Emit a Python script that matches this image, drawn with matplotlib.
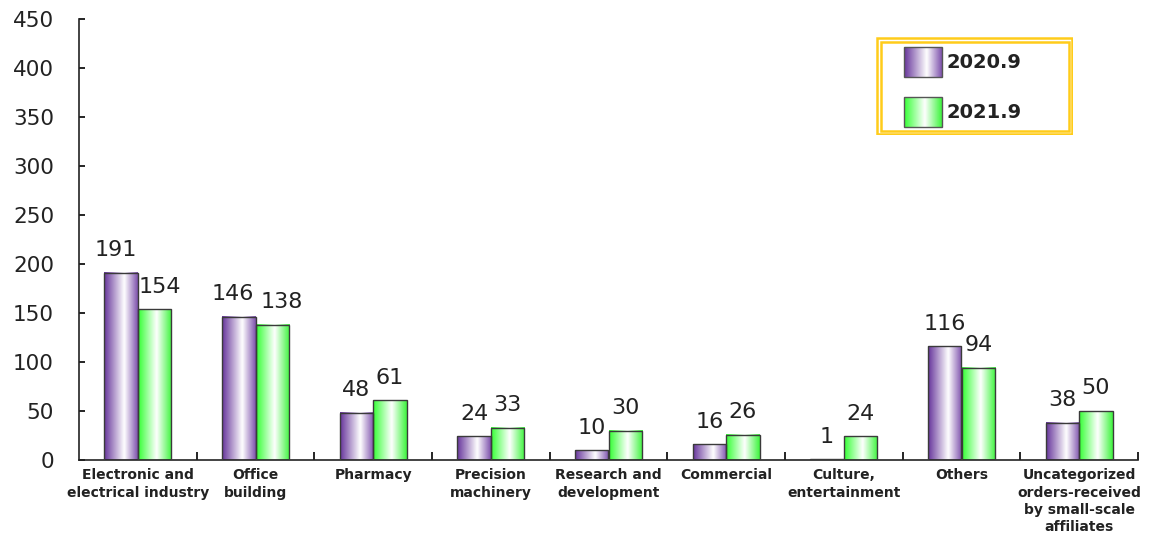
import numpy as np
import matplotlib
matplotlib.use('Agg')
import matplotlib.pyplot as plt
from matplotlib.colors import LinearSegmentedColormap
from matplotlib.patches import Rectangle

categories = ['Electronic and\nelectrical industry', 'Office\nbuilding', 'Pharmacy',
              'Precision\nmachinery', 'Research and\ndevelopment', 'Commercial',
              'Culture,\nentertainment', 'Others',
              'Uncategorized\norders-received\nby small-scale\naffiliates']
orders_2020 = [191, 146, 48, 24, 10, 16, 1, 116, 38]
orders_2021 = [154, 138, 61, 33, 30, 26, 24, 94, 50]
series_names = ['2020.9', '2021.9']

plt.rcParams['font.family'] = 'DejaVu Sans'
text_col = '#222222'

# edge -> white -> edge gradients for the bar fills
purple_cmap = LinearSegmentedColormap.from_list(
    'purple_shade', [(0, '#65339A'), (0.6, '#FFFFFF'), (1, '#7D50AC')])
green_cmap = LinearSegmentedColormap.from_list(
    'green_shade', [(0, '#33FF33'), (0.55, '#FFFFFF'), (1, '#3CF53C')])
grad = np.linspace(0, 1, 256).reshape(1, -1)

fig = plt.figure(figsize=(11.51, 5.39), dpi=100)
ax = fig.add_axes([79 / 1151, 79 / 539, 1059 / 1151, 441 / 539])

x = np.arange(len(categories))
w = 0.285
bars_a = ax.bar(x - w / 2, orders_2020, w, facecolor='none', edgecolor='#3a3a3a', lw=1, zorder=3)
bars_b = ax.bar(x + w / 2, orders_2021, w, facecolor='none', edgecolor='#3a3a3a', lw=1, zorder=3)

labels = []
for bars, cmap in [(bars_a, purple_cmap), (bars_b, green_cmap)]:
    for b in bars:
        x0, y0 = b.get_x(), b.get_y()
        ax.imshow(grad, cmap=cmap, aspect='auto', zorder=2, interpolation='bicubic',
                  extent=[x0, x0 + b.get_width(), y0, y0 + b.get_height()])
    labels.append(ax.bar_label(bars, padding=9, fontsize=16, color=text_col))

# spread the crowded three-digit labels apart a little
for i, (da, db) in enumerate([(-4, 4), (-4, 7)]):
    labels[0][i].xyann = (da, 9)
    labels[1][i].xyann = (db, 9)

ax.set_xlim(-0.5, len(categories) - 0.5)
ax.set_ylim(0, 450)
ax.set_yticks(np.arange(0, 451, 50))
ax.tick_params(axis='y', direction='in', length=4, width=1.2, labelsize=15.5,
               labelcolor=text_col, pad=18)
ax.set_xticks(x)
ax.set_xticklabels(categories, fontsize=10, fontweight='bold', color=text_col,
                   linespacing=1.3)
ax.tick_params(axis='x', which='major', length=0, pad=6)
ax.set_xticks(np.arange(0.5, len(categories), 1.0), minor=True)
ax.tick_params(axis='x', which='minor', direction='in', length=6, width=1.2)
for s in ['top', 'right']:
    ax.spines[s].set_visible(False)
for s in ['left', 'bottom']:
    ax.spines[s].set_linewidth(1.2)
    ax.spines[s].set_color('#222222')

# legend box with double gold border
lax = fig.add_axes([876 / 1151, 1 - 135 / 539, 197 / 1151, 98 / 539])
lax.axis('off')
lax.add_patch(Rectangle((1, 1), 195, 96, fill=False, edgecolor='#FFCC1A', lw=1.8))
lax.add_patch(Rectangle((4.5, 4.5), 188, 89, fill=False, edgecolor='#FFCC1A', lw=1.8))
for i, (name, cmap) in enumerate(zip(series_names, [purple_cmap, green_cmap])):
    top = 10 + i * 50
    lax.imshow(grad, cmap=cmap, aspect='auto', interpolation='bicubic',
               extent=[28, 66, top + 30, top])
    lax.add_patch(Rectangle((28, top), 38, 30, fill=False, edgecolor='#555555', lw=1))
    lax.text(71, top + 15, name, fontsize=14, fontweight='bold', va='center',
             ha='left', color=text_col)
lax.set_xlim(0, 197)
lax.set_ylim(98, 0)

fig.savefig('out.png', dpi=100)
